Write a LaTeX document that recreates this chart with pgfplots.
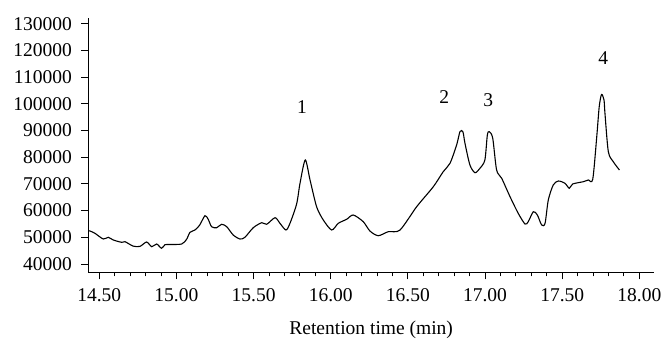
\documentclass[border=0pt]{standalone}
\usepackage{pgfplots}
\pgfplotsset{compat=1.18}
\usepackage{fontspec}
\setmainfont{Liberation Serif}
\begin{document}
\begin{tikzpicture}[x=1pt,y=1pt]
\path[use as bounding box] (-88.3,-74.7) rectangle (576.7,272.3);
\begin{axis}[
  at={(0pt,0pt)}, anchor=south west,
  scale only axis, width=565.7pt, height=254pt,
  xmin=14.429, xmax=18.095, ymin=36900, ymax=132000,
  axis lines*=left,
  axis line style={line width=0.9pt},
  every tick/.style={black, line width=0.9pt},
  tick align=outside,
  major tick length=7pt, minor tick length=4pt,
  xtick={14.5,15,15.5,16,16.5,17,17.5,18},
  xticklabels={14.50,15.00,15.50,16.00,16.50,17.00,17.50,18.00},
  minor x tick num=4,
  ytick={40000,50000,60000,70000,80000,90000,100000,110000,120000,130000},
  yticklabels={40000,50000,60000,70000,80000,90000,100000,110000,120000,130000},
  scaled y ticks=false, scaled x ticks=false,
  font=\fontsize{19.5}{22}\selectfont,
  yticklabel style={xshift=-6pt},
  xticklabel style={yshift=-6pt},
  xlabel={Retention time (min)},
  xlabel style={yshift=-12pt},
  clip=false,
]
\addplot[black, line width=1.1pt, smooth, tension=0.45] coordinates {
(14.429,52500) (14.440,52360) (14.472,51500) (14.526,49360) (14.558,50000) (14.591,48990)
(14.645,48130) (14.667,48350) (14.720,46700) (14.764,46600) (14.807,48240) (14.840,46480)
(14.872,47490) (14.904,45880) (14.926,47230) (14.960,47300) (15.034,47490) (15.066,49250)
(15.088,51870) (15.120,52730) (15.150,54500) (15.185,58090) (15.206,56740) (15.228,53970)
(15.261,53590) (15.293,54870) (15.326,53970) (15.368,50860) (15.412,49360) (15.444,50000)
(15.498,53590) (15.553,55470) (15.585,54870) (15.639,57340) (15.671,55240) (15.710,52730)
(15.736,55240) (15.779,62470) (15.801,70220) (15.835,78950) (15.866,71460) (15.909,61350)
(15.952,56480) (16.006,52730) (16.049,55240) (16.103,56740) (16.146,58350) (16.211,55840)
(16.254,52360) (16.308,50600) (16.373,52100) (16.449,52730) (16.557,61460) (16.665,68950)
(16.729,74570) (16.773,77710) (16.816,84570) (16.838,89620) (16.857,89430) (16.870,85200)
(16.902,77080) (16.935,74190) (16.967,75840) (16.999,78950) (17.015,88310) (17.028,89550)
(17.050,87070) (17.075,75200) (17.108,72090) (17.162,65200) (17.215,58990) (17.259,54980)
(17.280,55840) (17.313,59590) (17.339,58350) (17.367,54610) (17.389,55240) (17.410,63970)
(17.442,69590) (17.475,71080) (17.518,70220) (17.546,68350) (17.568,69960) (17.637,70820)
(17.669,71460) (17.698,71720) (17.724,87670) (17.740,98910) (17.755,103480) (17.771,101420)
(17.777,96550) (17.799,82060) (17.831,78310) (17.871,75200)
};
\node[font=\fontsize{19.5}{22}\selectfont] at (axis cs:15.814,98900) {1};
\node[font=\fontsize{19.5}{22}\selectfont] at (axis cs:16.736,102660) {2};
\node[font=\fontsize{19.5}{22}\selectfont] at (axis cs:17.021,101420) {3};
\node[font=\fontsize{19.5}{22}\selectfont] at (axis cs:17.766,117040) {4};
\end{axis}
\end{tikzpicture}
\end{document}
